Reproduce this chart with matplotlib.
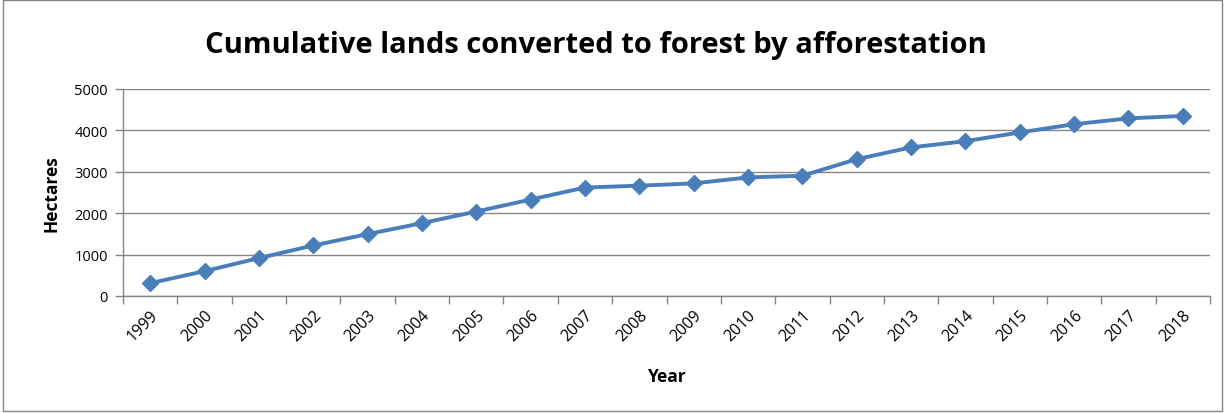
import matplotlib
matplotlib.use("Agg")
import matplotlib.pyplot as plt
from matplotlib.patches import Rectangle

years = ["1999", "2000", "2001", "2002", "2003", "2004", "2005", "2006", "2007", "2008",
         "2009", "2010", "2011", "2012", "2013", "2014", "2015", "2016", "2017", "2018"]
hectares = [310, 600, 915, 1220, 1495, 1760, 2040, 2330, 2620, 2665,
            2720, 2865, 2905, 3305, 3590, 3740, 3950, 4150, 4290, 4350]
y_ticks = [0, 1000, 2000, 3000, 4000, 5000]

W, H = 1231, 414
fig = plt.figure(figsize=(W / 100, H / 100), dpi=100)
fig.patch.set_facecolor("white")

# outer chart frame
fig.add_artist(Rectangle((3 / W, 1 - 412 / H), 1219 / W, 411 / H,
                         transform=fig.transFigure, fill=False,
                         edgecolor="#868686", linewidth=1.0))

left, right, top, bottom = 123, 1210, 90, 297
ax = fig.add_axes([left / W, 1 - bottom / H, (right - left) / W, (bottom - top) / H])

x = list(range(len(years)))
ax.plot(x, hectares, color="#4A7EBB", linewidth=2.8, marker="D",
        markersize=8, markeredgecolor="#4A7EBB", markerfacecolor="#4A7EBB",
        zorder=3, clip_on=False)

ax.set_xlim(-0.5, len(years) - 0.5)
ax.set_ylim(0, 5000)
ax.set_yticks(y_ticks)
ax.set_yticklabels([str(v) for v in y_ticks], fontsize=10.5, family="Open Sans")
ax.yaxis.grid(True, color="#868686", linewidth=1.0)
ax.set_axisbelow(True)

ax.set_xticks(x)
ax.set_xticklabels(years, rotation=45, ha="right", rotation_mode="anchor",
                   fontsize=11.5, family="Open Sans")
ax.tick_params(axis="x", length=0, pad=8)
ax.set_xticks([i - 0.5 for i in range(len(years) + 1)], minor=True)
ax.tick_params(axis="x", which="minor", length=6, color="#868686", width=1.0)
ax.tick_params(axis="y", length=6, color="#868686", width=1.0, pad=5)

for side in ("top", "right"):
    ax.spines[side].set_visible(False)
for side in ("left", "bottom"):
    ax.spines[side].set_color("#868686")
    ax.spines[side].set_linewidth(1.0)

ax.set_ylabel("Hectares", fontsize=12.5, fontweight="bold", family="Open Sans", labelpad=10)
fig.text(667 / W, 1 - 377 / H, "Year", ha="center", va="center",
         fontsize=12.5, fontweight="bold", family="Open Sans")
fig.text(596 / W, 1 - 45 / H, "Cumulative lands converted to forest by afforestation",
         ha="center", va="center", fontsize=21, fontweight="bold", family="Open Sans")

fig.savefig("out.png", dpi=100, facecolor="white")
